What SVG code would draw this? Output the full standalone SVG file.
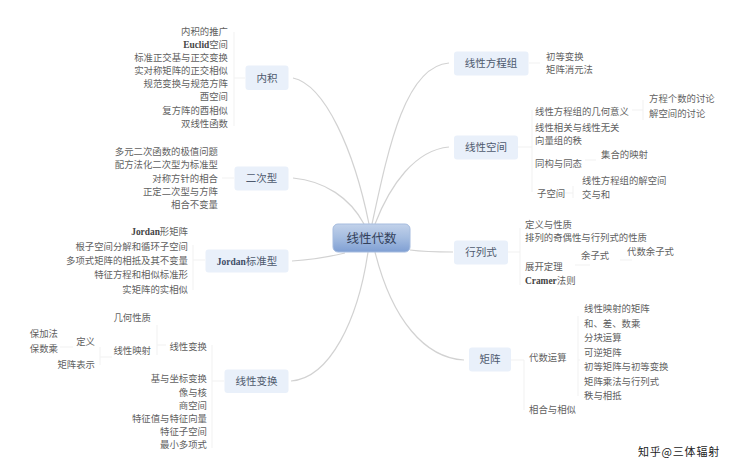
<svg xmlns="http://www.w3.org/2000/svg" width="744" height="476" viewBox="0 0 744 476">
<defs>
<linearGradient id="cg" x1="0" y1="0" x2="0" y2="1"><stop offset="0" stop-color="#c2d2ea"/><stop offset="0.5" stop-color="#a4bce0"/><stop offset="1" stop-color="#7f9fd3"/></linearGradient>
<filter id="bl" x="-10%" y="-10%" width="120%" height="120%"><feGaussianBlur stdDeviation="0.6"/></filter>
</defs>
<style>
text{font-family:"Noto Sans CJK SC","Liberation Serif",serif;font-size:9.4px;fill:#5f5f5f}
.e{font-family:"Liberation Serif",serif;font-weight:bold;fill:#444}
.r{text-anchor:end}
.t{font-size:10.500px;fill:#4e5a6e;text-anchor:middle}
.box{fill:#e9f0fa;filter:url(#bl)}
.main{stroke:#d2d2d2;stroke-width:1.200;fill:none}
.sub{stroke:#f1f1f1;stroke-width:1;fill:none}
</style>
<rect width="744" height="476" fill="#fff"/>
<g id="connectors">
<path class="main" d="M293 78C325 85 354 150 369 224"/>
<path class="main" d="M293 178C325 181 350 198 364 224"/>
<path class="main" d="M292 261C310 260 328 257 345 253"/>
<path class="main" d="M291 381C330 378 358 320 368 252"/>
<path class="main" d="M449 63C405 66 388 150 372 224"/>
<path class="main" d="M449 147C415 150 390 185 375 224"/>
<path class="main" d="M410 250C425 252 438 252 453 252"/>
<path class="main" d="M464 360C425 358 392 320 375 252"/>
<path class="sub" d="M245 78H234M234 32V126"/>
<path class="sub" d="M234 178H222"/>
<path class="sub" d="M205 260H193M193 245V290"/>
<path class="sub" d="M224 381H212M212 345V448"/>
<path class="sub" d="M166 345H157M157 325V355M112 357H100M100 347V365M73 347H60"/>
<path class="sub" d="M529 63H540"/>
<path class="sub" d="M518 147H532M532 110V192M632 110H643M643 100V120M585 160H596M565 193H573M573 186V198"/>
<path class="sub" d="M508 252H520M520 228V285M575 265H590M620 260H632"/>
<path class="sub" d="M511 360H524M524 360V410M580 360H578M578 316V396"/>
</g>
<g id="center"><rect x="333" y="224" width="77" height="28" rx="5" fill="url(#cg)" stroke="#a6bcdf"/><text x="371.500" y="243" style="font-size:12.500px;fill:#33405a;text-anchor:middle">线性代数</text></g>
<g id="n-inner"><rect class="box" x="245.500" y="65.500" width="43" height="24.500" rx="3"/><text class="t" x="267" y="81.500">内积</text></g>
<g id="n-quad"><rect class="box" x="234.500" y="166.500" width="54" height="24" rx="3"/><text class="t" x="261.500" y="182">二次型</text></g>
<g id="n-jordan"><rect class="box" x="205.500" y="249.500" width="83" height="23" rx="3"/><text class="t" x="247" y="265"><tspan class="e" style="font-size:9.500px;fill:#3e4c66">Jordan</tspan>标准型</text></g>
<g id="n-lt"><rect class="box" x="224.500" y="369.500" width="64" height="23.500" rx="3"/><text class="t" x="256.500" y="385">线性变换</text></g>
<g id="n-eq"><rect class="box" x="454" y="51.500" width="74.500" height="24" rx="3"/><text class="t" x="491" y="67">线性方程组</text></g>
<g id="n-ls"><rect class="box" x="454" y="135.500" width="64" height="24" rx="3"/><text class="t" x="486" y="151">线性空间</text></g>
<g id="n-det"><rect class="box" x="454" y="240.500" width="54" height="24" rx="3"/><text class="t" x="481" y="256">行列式</text></g>
<g id="n-mat"><rect class="box" x="469" y="347.500" width="42" height="24" rx="3"/><text class="t" x="490" y="363">矩阵</text></g>
<g id="leaves-inner">
<text class="r" x="228" y="35">内积的推广</text>
<text class="r" x="228" y="48"><tspan class="e">Euclid</tspan>空间</text>
<text class="r" x="228" y="61">标准正交基与正交变换</text>
<text class="r" x="228" y="74">实对称矩阵的正交相似</text>
<text class="r" x="228" y="87">规范变换与规范方阵</text>
<text class="r" x="228" y="100">酉空间</text>
<text class="r" x="228" y="113.500">复方阵的酉相似</text>
<text class="r" x="228" y="126.500">双线性函数</text>
</g>
<g id="leaves-quad">
<text class="r" x="218" y="155">多元二次函数的极值问题</text>
<text class="r" x="218" y="168">配方法化二次型为标准型</text>
<text class="r" x="218" y="181.500">对称方针的相合</text>
<text class="r" x="218" y="194.500">正定二次型与方阵</text>
<text class="r" x="218" y="207.500">相合不变量</text>
</g>
<g id="leaves-jordan">
<text class="r" x="188" y="235"><tspan class="e">Jordan</tspan>形矩阵</text>
<text class="r" x="188" y="249.500">根子空间分解和循环子空间</text>
<text class="r" x="188" y="264">多项式矩阵的相抵及其不变量</text>
<text class="r" x="188" y="278">特征方程和相似标准形</text>
<text class="r" x="188" y="292.500">实矩阵的实相似</text>
</g>
<g id="leaves-lt">
<text class="r" x="207" y="350">线性变换</text>
<text class="r" x="207" y="382">基与坐标变换</text>
<text class="r" x="207" y="395.500">像与核</text>
<text class="r" x="207" y="408.500">商空间</text>
<text class="r" x="207" y="421.500">特征值与特征向量</text>
<text class="r" x="207" y="434.500">特征子空间</text>
<text class="r" x="207" y="448">最小多项式</text>
<text class="r" x="151" y="321">几何性质</text>
<text class="r" x="151" y="354">线性映射</text>
<text class="r" x="95" y="345">定义</text>
<text class="r" x="95" y="368">矩阵表示</text>
<text class="r" x="58" y="337">保加法</text>
<text class="r" x="58" y="352">保数乘</text>
</g>
<g id="leaves-eq">
<text x="546" y="60">初等变换</text>
<text x="546" y="73">矩阵消元法</text>
</g>
<g id="leaves-ls">
<text x="535" y="115">线性方程组的几何意义</text>
<text x="649" y="102">方程个数的讨论</text>
<text x="649" y="117">解空间的讨论</text>
<text x="535" y="131">线性相关与线性无关</text>
<text x="535" y="144">向量组的秩</text>
<text x="535" y="167">同构与同态</text>
<text x="601" y="158">集合的映射</text>
<text x="537" y="197">子空间</text>
<text x="582" y="184">线性方程组的解空间</text>
<text x="582" y="198">交与和</text>
</g>
<g id="leaves-det">
<text x="525" y="228">定义与性质</text>
<text x="525" y="241">排列的奇偶性与行列式的性质</text>
<text x="525" y="270">展开定理</text>
<text x="581" y="259">余子式</text>
<text x="627" y="255">代数余子式</text>
<text x="525" y="284"><tspan class="e">Cramer</tspan>法则</text>
</g>
<g id="leaves-mat">
<text x="529" y="361">代数运算</text>
<text x="529" y="413">相合与相似</text>
<text x="584" y="312">线性映射的矩阵</text>
<text x="584" y="326.500">和、差、数乘</text>
<text x="584" y="341">分块运算</text>
<text x="584" y="355.500">可逆矩阵</text>
<text x="584" y="370">初等矩阵与初等变换</text>
<text x="584" y="384.500">矩阵乘法与行列式</text>
<text x="584" y="399">秩与相抵</text>
</g>
<text id="watermark" x="638" y="456" style="font-size:11px;fill:#222;letter-spacing:0.800px">知乎@三体辐射</text>
</svg>
